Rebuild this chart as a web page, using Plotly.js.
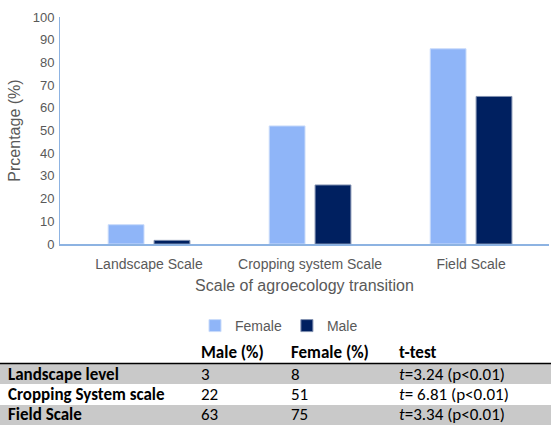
<!DOCTYPE html>
<html>
<head>
<meta charset="utf-8">
<script src="https://cdn.plot.ly/plotly-3.0.1.min.js"></script>
<style>html,body{margin:0;padding:0;background:#fff;}#chart{width:551px;height:425px;}</style>
</head>
<body>
<div id="chart"></div>
<script>
// ---- chart data ----
var categories = ['Landscape Scale', 'Cropping system Scale', 'Field Scale'];
var femaleValues = [8.5, 52, 86];
var maleValues = [1.6, 26, 65];
var yTicks = [0, 10, 20, 30, 40, 50, 60, 70, 80, 90, 100];

// ---- table data ----
var tableHeader = ['Male (%)', 'Female (%)', 't-test'];
var tableRows = ['Landscape level', 'Cropping System scale', 'Field Scale'];
var tableMale = ['3', '22', '63'];
var tableFemale = ['8', '51', '75'];
var tableT = ['=3.24 (p&lt;0.01)', '= 6.81 (p&lt;0.01)', '=3.34 (p&lt;0.01)'];

var W = 551, H = 425, ML = 60, MR = 2, MT = 17, MB = 181;
var PW = W - ML - MR, PH = H - MT - MB;
function px(x) { return (x - ML) / PW; }
function py(y) { return (H - MB - y) / PH; }

var chartFont = 'Liberation Sans, Arial, sans-serif';
var tableFont = 'Carlito, Lato, Calibri, sans-serif';

var traces = [
  {type: 'bar', name: 'Female', x: categories, y: femaleValues,
   marker: {color: '#8FB5F8', line: {color: '#C9DBFA', width: 1}}},
  {type: 'bar', name: 'Male', x: categories, y: maleValues,
   marker: {color: '#002060', line: {color: '#8090B0', width: 1}}}
];

var shapes = [
  {type: 'rect', xref: 'paper', yref: 'paper', x0: px(-2), x1: px(W + 2), y0: py(364), y1: py(384),
   fillcolor: '#C9C9C9', line: {width: 0}, layer: 'below'},
  {type: 'rect', xref: 'paper', yref: 'paper', x0: px(-2), x1: px(W + 2), y0: py(405), y1: py(430),
   fillcolor: '#C9C9C9', line: {width: 0}, layer: 'below'},
  {type: 'line', xref: 'paper', yref: 'paper', x0: px(-2), x1: px(W + 2), y0: py(363.5), y1: py(363.5),
   line: {color: '#000', width: 1.5}}
];

var annotations = [];
var colX = [200, 290, 398];
var rowY = [374.5, 394.5, 414];
var bigFont = {family: tableFont, size: 17, color: '#000'};
var tFont = {family: tableFont, size: 17, color: '#000'};
function ann(x, y, text, font) {
  annotations.push({xref: 'paper', yref: 'paper', x: px(x), y: py(y), text: text,
    showarrow: false, xanchor: 'left', yanchor: 'middle', font: font, borderpad: 0});
}
tableHeader.forEach(function (h, i) { ann(colX[i], 352, '<b>' + h + '</b>', bigFont); });
tableRows.forEach(function (r, i) {
  ann(7, rowY[i], '<b>' + r + '</b>', bigFont);
  ann(colX[0], rowY[i], tableMale[i], bigFont);
  ann(colX[1], rowY[i], tableFemale[i], bigFont);
  ann(colX[2], rowY[i], '<i>t</i>' + tableT[i], tFont);
});

var layout = {
  width: W, height: H,
  margin: {l: ML, r: MR, t: MT, b: MB, pad: 0},
  paper_bgcolor: '#fff', plot_bgcolor: '#fff',
  font: {family: chartFont, color: '#595959'},
  barmode: 'group', bargap: 0.43, bargroupgap: 0.22,
  showlegend: true,
  legend: {orientation: 'h', x: px(279), y: py(326), xanchor: 'center', yanchor: 'middle',
    font: {size: 14, color: '#595959'}, itemwidth: 30, tracegroupgap: 0},
  xaxis: {
    type: 'category', range: [-0.553, 2.484],
    showline: true, linecolor: '#8DB3E2', linewidth: 1.5,
    showgrid: false, zeroline: false, ticks: '',
    ticklabelstandoff: 7,
    tickfont: {size: 14, color: '#595959'},
    title: {text: 'Scale of agroecology transition', font: {size: 16, color: '#595959'}, standoff: 8}
  },
  yaxis: {
    range: [0, 100], tickvals: yTicks,
    showline: true, linecolor: '#8DB3E2', linewidth: 1,
    showgrid: false, zeroline: false, ticks: '',
    ticklabelstandoff: 2,
    tickfont: {size: 13, color: '#595959'},
    title: {text: 'Prcentage (%)', font: {size: 16, color: '#595959'}, standoff: 8}
  },
  shapes: shapes,
  annotations: annotations
};

Plotly.newPlot('chart', traces, layout, {displayModeBar: false, staticPlot: true});
</script>
</body>
</html>
